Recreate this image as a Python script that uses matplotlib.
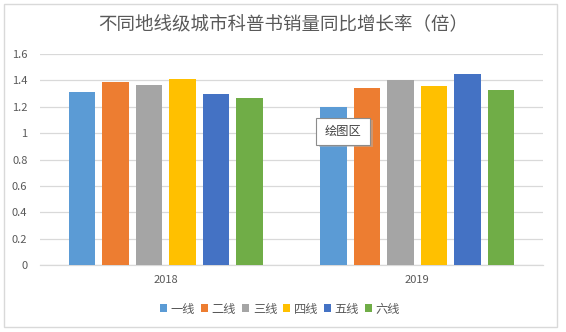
import matplotlib
matplotlib.use("Agg")
import matplotlib.pyplot as plt
from matplotlib.patches import Rectangle, Patch
import numpy as np

plt.rcParams['font.family'] = ['Noto Sans CJK SC', 'DejaVu Sans']

title = "不同地线级城市科普书销量同比增长率（倍）"
categories = ["2018", "2019"]
series_names = ["一线", "二线", "三线", "四线", "五线", "六线"]
values = {
    "一线": [1.31, 1.20],
    "二线": [1.39, 1.34],
    "三线": [1.365, 1.40],
    "四线": [1.41, 1.36],
    "五线": [1.30, 1.45],
    "六线": [1.265, 1.325],
}
colors = ["#5B9BD5", "#ED7D31", "#A5A5A5", "#FFC000", "#4472C4", "#70AD47"]
yticks = [0, 0.2, 0.4, 0.6, 0.8, 1, 1.2, 1.4, 1.6]
ytick_labels = ["0", "0.2", "0.4", "0.6", "0.8", "1", "1.2", "1.4", "1.6"]

W, H = 566, 332
fig = plt.figure(figsize=(W / 100, H / 100), dpi=100)
fig.patch.set_facecolor("white")

# outer border
fig.add_artist(Rectangle((4 / W, 1 - 327 / H), (557 - 4) / W, (327 - 4) / H,
                         transform=fig.transFigure, fill=False,
                         edgecolor="#D9D9D9", linewidth=1.0))

ax = fig.add_axes([40 / W, 1 - 265.3 / H, 503 / W, (265.3 - 54) / H])
x = np.arange(len(categories))
pitch = 0.1335
bw = 0.105
n = len(series_names)
for i, (name, c) in enumerate(zip(series_names, colors)):
    off = (i - (n - 1) / 2) * pitch
    ax.bar(x + off, values[name], width=bw, color=c, label=name, zorder=3)

ax.set_xlim(-0.5, len(categories) - 0.5)
ax.set_ylim(0, 1.6)
ax.set_yticks(yticks)
ax.set_yticklabels(ytick_labels)
ax.set_xticks(x)
ax.set_xticklabels(categories)
ax.grid(axis="y", color="#D9D9D9", linewidth=0.9, zorder=0)
for s in ["top", "right", "left"]:
    ax.spines[s].set_visible(False)
ax.spines["bottom"].set_color("#D9D9D9")
ax.spines["bottom"].set_linewidth(0.9)
ax.tick_params(axis="both", length=0, colors="#595959", labelsize=8)
ax.tick_params(axis="y", pad=9)
ax.tick_params(axis="x", pad=7)

fig.text(283 / W, 1 - 25 / H, title, ha="center", va="center",
         fontsize=13.3, color="#595959")

handles = [Patch(facecolor=c, edgecolor="none") for c in colors]
fig.legend(handles, series_names, loc="center", bbox_to_anchor=(280 / W, 1 - 309 / H),
           ncol=6, frameon=False, handlelength=0.6, handleheight=0.6,
           handletextpad=0.3, columnspacing=0.45, fontsize=8.8,
           labelcolor="#595959")

# "绘图区" tooltip
fig.add_artist(Rectangle((319 / W, 1 - 147 / H), 54 / W, 27 / H,
                         transform=fig.transFigure, facecolor="#B0B0B0",
                         edgecolor="none", alpha=0.5, zorder=10))
fig.add_artist(Rectangle((316 / W, 1 - 145 / H), 54 / W, 27 / H,
                         transform=fig.transFigure, facecolor="white",
                         edgecolor="#8C8C8C", linewidth=0.8, zorder=11))
fig.text(343 / W, 1 - 131.5 / H, "绘图区", ha="center", va="center",
         fontsize=8.8, color="#404040", zorder=12)

fig.savefig("out.png", dpi=100, facecolor="white")
